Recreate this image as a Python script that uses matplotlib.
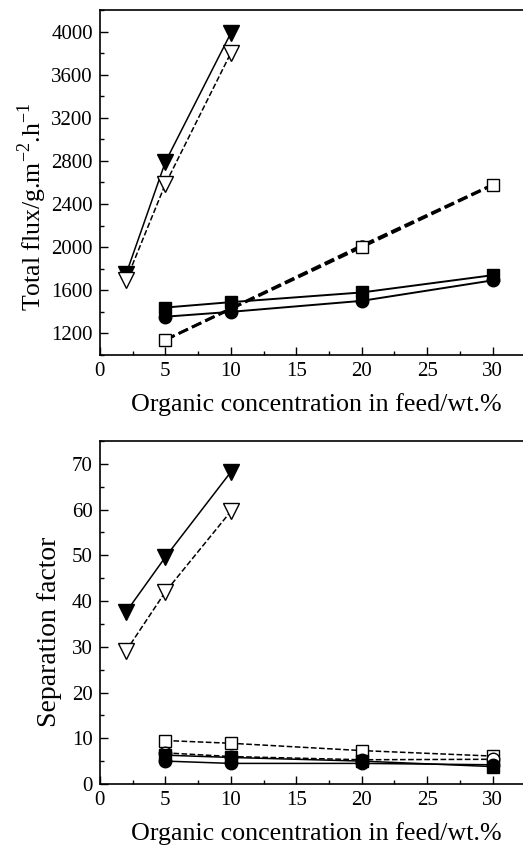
import matplotlib
matplotlib.use('Agg')
import matplotlib.pyplot as plt
from matplotlib.ticker import MultipleLocator

plt.rcParams['font.family'] = 'Liberation Serif'
plt.rcParams['mathtext.fontset'] = 'custom'
plt.rcParams['mathtext.rm'] = 'Liberation Serif'

# top panel: total flux
x_tri = [2, 5, 10]
flux_tri_filled = [1750, 2790, 3985]
flux_tri_open = [1692, 2585, 3800]
x_sq = [5, 10, 20, 30]
flux_sq_filled = [1440, 1490, 1580, 1740]
flux_ci_filled = [1355, 1400, 1502, 1692]
x_open = [5, 20, 30]
flux_sq_open = [1140, 2000, 2575]
flux_ci_open = [1140, 2015, 2580]

# bottom panel: separation factor
sep_tri_filled = [37.6, 49.6, 68.2]
sep_tri_open = [29.1, 42.0, 59.6]
sep_sq_filled = [6.3, 5.8, 5.0, 3.8]
sep_ci_filled = [5.0, 4.5, 4.5, 4.2]
sep_sq_open = [9.5, 8.9, 7.3, 6.1]
sep_ci_open = [6.8, 6.0, 5.3, 5.4]

xlabel = 'Organic concentration in feed/wt.%'

fig = plt.figure(figsize=(5.23, 8.48), dpi=100)
ax1 = fig.add_axes([0.191, 0.5814, 0.826, 0.4068])
ax2 = fig.add_axes([0.191, 0.0755, 0.826, 0.4045])


def style_axis(ax):
    ax.set_xlim(0, 33)
    ax.xaxis.set_major_locator(MultipleLocator(5))
    ax.xaxis.set_minor_locator(MultipleLocator(2.5))
    ax.tick_params(which='both', direction='in', top=False, right=False,
                   labelsize=15, width=1.0)
    ax.tick_params(which='major', length=6, pad=5)
    ax.tick_params(which='minor', length=3)
    for s in ax.spines.values():
        s.set_linewidth(1.2)
    ax.spines['right'].set_visible(False)


ms_tri = 11
ms = 9

ax1.plot(x_tri, flux_tri_filled, 'kv-', lw=1.1, ms=ms_tri)
ax1.plot(x_tri, flux_tri_open, 'v--', color='k', mfc='white', lw=1.1, ms=ms_tri)
ax1.plot(x_open, flux_ci_open, 'o--', color='k', mfc='white', lw=2.0, ms=ms - 1)
ax1.plot(x_open, flux_sq_open, 's--', color='k', mfc='white', lw=2.0, ms=ms - 1)
ax1.plot(x_sq, flux_sq_filled, 'ks-', lw=1.4, ms=ms)
ax1.plot(x_sq, flux_ci_filled, 'ko-', lw=1.4, ms=ms)
style_axis(ax1)
ax1.set_ylim(1000, 4200)
ax1.yaxis.set_minor_locator(MultipleLocator(200))
ax1.set_yticks([1200, 1600, 2000, 2400, 2800, 3200, 3600, 4000])
ax1.set_ylabel('Total flux/g.m$^{-2}$.h$^{-1}$', fontsize=18.5)
ax1.yaxis.set_label_coords(-0.118, 0.43)
ax1.set_xlabel(xlabel, fontsize=18.7)
ax1.xaxis.set_label_coords(0.5, -0.11)

ax2.plot(x_tri, sep_tri_filled, 'kv-', lw=1.1, ms=ms_tri)
ax2.plot(x_tri, sep_tri_open, 'v--', color='k', mfc='white', lw=1.1, ms=ms_tri)
ax2.plot(x_sq, sep_sq_open, 's--', color='k', mfc='white', lw=1.1, ms=ms)
ax2.plot(x_sq, sep_ci_open, 'o--', color='k', mfc='white', lw=1.1, ms=ms)
ax2.plot(x_sq, sep_sq_filled, 'ks-', lw=1.1, ms=ms)
ax2.plot(x_sq, sep_ci_filled, 'ko-', lw=1.1, ms=ms)
style_axis(ax2)
ax2.set_ylim(0, 75)
ax2.yaxis.set_major_locator(MultipleLocator(10))
ax2.yaxis.set_minor_locator(MultipleLocator(5))
ax2.set_ylabel('Separation factor', fontsize=20)
ax2.yaxis.set_label_coords(-0.088, 0.443)
ax2.set_xlabel(xlabel, fontsize=18.7)
ax2.xaxis.set_label_coords(0.5, -0.11)

fig.savefig('out.png', dpi=100)
